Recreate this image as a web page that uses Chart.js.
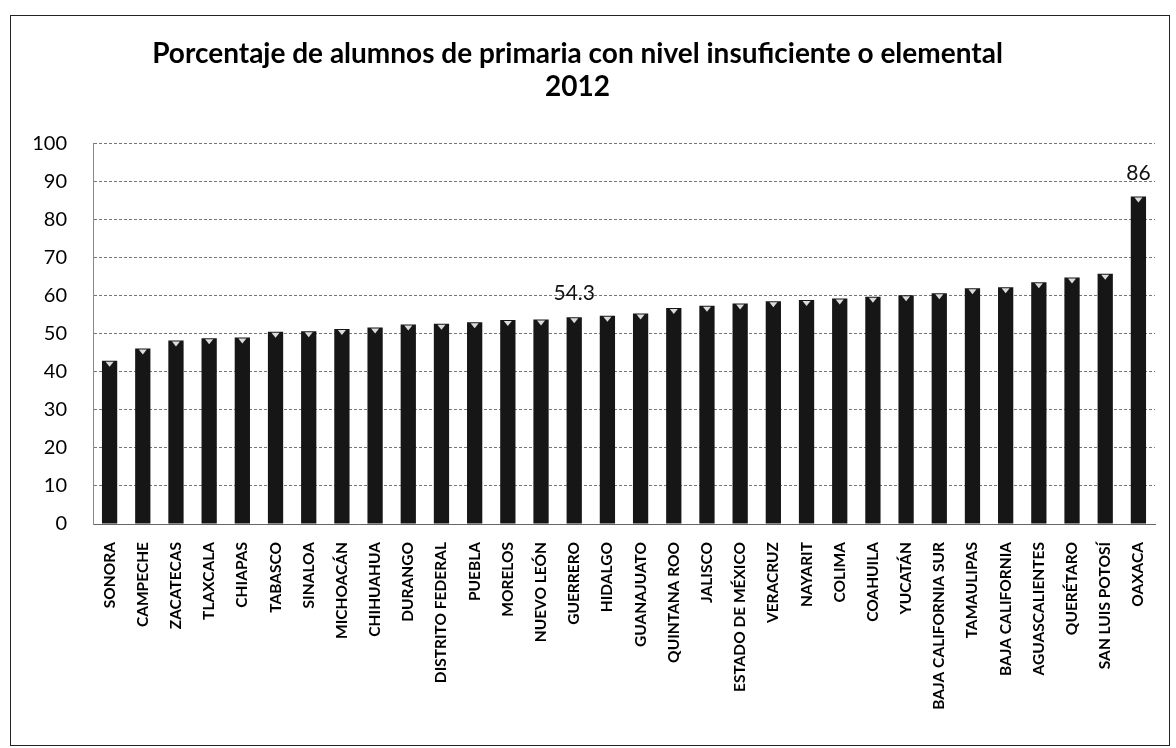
<!DOCTYPE html>
<html>
<head>
<meta charset="utf-8">
<title>Porcentaje de alumnos de primaria</title>
<script src="https://cdn.jsdelivr.net/npm/chart.js@4.4.1/dist/chart.umd.min.js"></script>
<style>
  html, body { margin: 0; padding: 0; background: #fff; }
  #wrap { position: relative; width: 1176px; height: 748px; }
  #frame {
    position: absolute; left: 10px; top: 15px; width: 1160px; height: 731px;
    border: 1.5px solid #222; box-sizing: border-box; pointer-events: none;
  }
</style>
</head>
<body>
<div id="wrap">
  <canvas id="chart" width="1176" height="748"></canvas>
  <div id="frame"></div>
</div>
<script>
// Estados (ordenados de menor a mayor)
const categories = [
    'SONORA', 'CAMPECHE', 'ZACATECAS', 'TLAXCALA', 'CHIAPAS', 'TABASCO', 'SINALOA',
    'MICHOACÁN', 'CHIHUAHUA', 'DURANGO', 'DISTRITO FEDERAL', 'PUEBLA', 'MORELOS',
    'NUEVO LEÓN', 'GUERRERO', 'HIDALGO', 'GUANAJUATO', 'QUINTANA ROO', 'JALISCO',
    'ESTADO DE MÉXICO', 'VERACRUZ', 'NAYARIT', 'COLIMA', 'COAHUILA', 'YUCATÁN',
    'BAJA CALIFORNIA SUR', 'TAMAULIPAS', 'BAJA CALIFORNIA', 'AGUASCALIENTES',
    'QUERÉTARO', 'SAN LUIS POTOSÍ', 'OAXACA'
];

// Porcentaje con nivel insuficiente o elemental
const values = [
    42.9, 46.1, 48.2, 48.8, 49.0, 50.5, 50.6,
    51.2, 51.6, 52.4, 52.6, 53.0, 53.6,
    53.7, 54.3, 54.7, 55.3, 56.7, 57.3,
    57.9, 58.5, 58.8, 59.2, 59.7, 60.1,
    60.6, 61.9, 62.2, 63.5,
    64.7, 65.7, 86
];

// Barras que llevan etiqueta de valor
const labeledBars = ['GUERRERO', 'OAXACA'];

const yTicks = [0, 10, 20, 30, 40, 50, 60, 70, 80, 90, 100];

const titleLines = ['Porcentaje de alumnos de primaria con nivel insuficiente o elemental', '2012'];

/**
 * Etiquetas de valor y muesca blanca en la parte alta de cada barra
 */
const barLabelsPlugin = {
    id: 'barLabels',
    afterDatasetsDraw(chart) {
        const ctx = chart.ctx;
        const meta = chart.getDatasetMeta(0);
        ctx.save();

        meta.data.forEach(bar => {
            ctx.fillStyle = 'rgba(255,255,255,0.85)';
            ctx.beginPath();
            ctx.moveTo(bar.x - 4, bar.y + 1);
            ctx.lineTo(bar.x + 4, bar.y + 1);
            ctx.lineTo(bar.x, bar.y + 6);
            ctx.closePath();
            ctx.fill();
        });

        ctx.fillStyle = '#111';
        ctx.font = '21px Lato';
        ctx.textAlign = 'center';
        ctx.textBaseline = 'alphabetic';
        labeledBars.forEach(name => {
            const i = categories.indexOf(name);
            const bar = meta.data[i];
            ctx.fillText(String(values[i]), bar.x, bar.y - 17);
        });
        ctx.restore();
    }
};

const ctx = document.getElementById('chart').getContext('2d');

new Chart(ctx, {
    type: 'bar',
    data: {
        labels: categories,
        datasets: [{
            data: values,
            backgroundColor: '#161616',
            borderWidth: 0,
            barPercentage: 0.46,
            categoryPercentage: 1.0
        }]
    },
    options: {
        responsive: false,
        devicePixelRatio: 1,
        animation: false,
        layout: {
            padding: { left: 0, right: 21, top: 0, bottom: 0 }
        },
        plugins: {
            legend: { display: false },
            tooltip: { enabled: false },
            title: {
                display: true,
                text: titleLines,
                color: '#000',
                font: { family: 'Lato', size: 28, weight: 'bold', lineHeight: 1.2 },
                padding: { top: 37, bottom: 39 }
            }
        },
        scales: {
            x: {
                grid: { display: false, drawTicks: false },
                border: { display: true, color: '#666', dash: [3, 2], width: 1 },
                ticks: {
                    color: '#000',
                    font: { family: 'Lato', size: 15.5, weight: 'bold' },
                    minRotation: 90,
                    maxRotation: 90,
                    autoSkip: false,
                    padding: 18
                },
                afterFit(scale) {
                    scale.height = 224;
                }
            },
            y: {
                min: 0,
                max: 100,
                afterBuildTicks(scale) {
                    scale.ticks = yTicks.map(v => ({ value: v }));
                },
                grid: { color: '#777', lineWidth: 1, drawTicks: false },
                border: { display: true, color: '#888', dash: [3, 2], width: 1 },
                ticks: {
                    color: '#000',
                    font: { family: 'Lato', size: 20 },
                    padding: 26
                },
                afterFit(scale) {
                    scale.width = 93;
                }
            }
        }
    },
    plugins: [barLabelsPlugin]
});
</script>
</body>
</html>
